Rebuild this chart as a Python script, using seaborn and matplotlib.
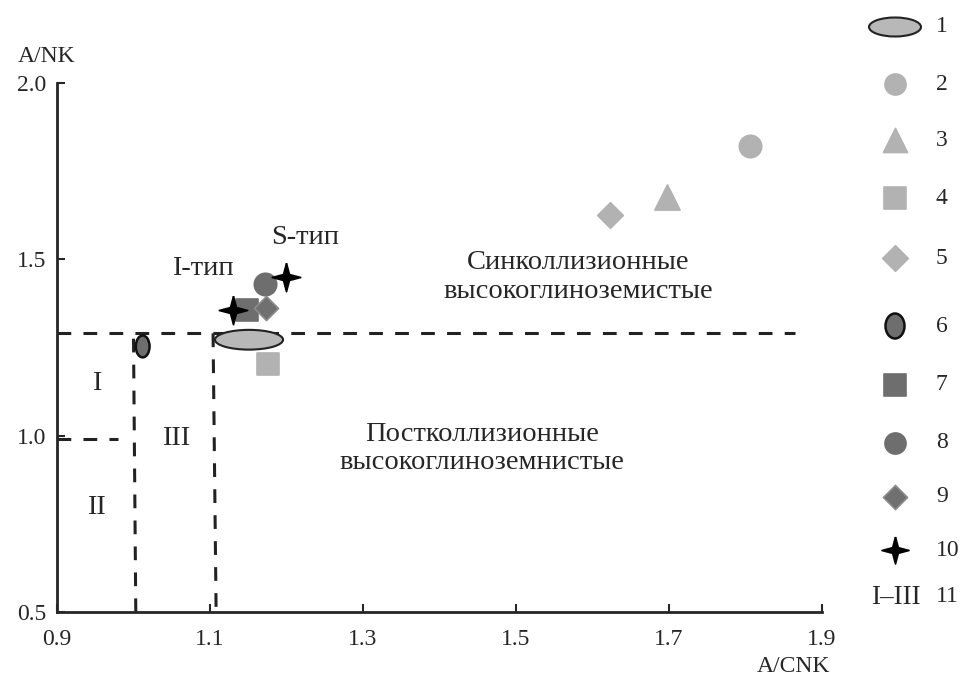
import numpy as np
import pandas as pd
import seaborn as sns
import matplotlib.pyplot as plt
from matplotlib.patches import Ellipse

# points (A/CNK, A/NK)
grp2_x, grp2_y = [1.806], [1.822]
grp3_x, grp3_y = [1.697], [1.676]
grp4_x, grp4_y = [1.176], [1.202]
grp5_x, grp5_y = [1.623], [1.625]
grp7_x, grp7_y = [1.148], [1.357]
grp8_x, grp8_y = [1.172], [1.430]
grp9_x, grp9_y = [1.173], [1.363]
grp10_x, grp10_y = [1.130, 1.199], [1.357, 1.450]

# ellipse fields: centre x, centre y, width, height
field1 = (1.151, 1.272, 0.089, 0.056)
field6 = (1.012, 1.253, 0.018, 0.062)

# boundaries
h_line = 1.29
h_line_end = 1.865
v_line_1 = 1.0
v_line_2 = 1.104
small_line_y = 0.99
small_line_end = 0.98

legend_labels = ['1', '2', '3', '4', '5', '6', '7', '8', '9', '10', '11']

light = '#b2b2b2'
dark = '#6e6e6e'

# thin four-pointed star
r = 0.21
star = [(0, 1), (r, r), (1, 0), (r, -r), (0, -1), (-r, -r), (-1, 0), (-r, r), (0, 1)]

sns.set_style('ticks')
plt.rcParams['font.family'] = ['Liberation Serif', 'DejaVu Serif']
plt.rcParams['font.size'] = 17

fig = plt.figure(figsize=(9.62, 6.77), dpi=100)
ax = fig.add_axes([57 / 962, 65 / 677, (822 - 57) / 962, (612 - 83) / 677])

# boundary lines
dash = dict(color='#222222', lw=2.2, ls=(0, (4.5, 4)))
ax.plot([0.9, h_line_end], [h_line, h_line], **dash)
ax.plot([v_line_1, v_line_1 + 0.003], [1.275, 0.5], **dash)
ax.plot([v_line_2, v_line_2 + 0.004], [h_line, 0.5], **dash)
ax.plot([0.9, small_line_end], [small_line_y, small_line_y], **dash)

# fields
cx, cy, w, h = field1
ax.add_patch(Ellipse((cx, cy), w, h, facecolor='#b8b8b8', edgecolor='#222222', lw=1.5, zorder=3))
cx, cy, w, h = field6
ax.add_patch(Ellipse((cx, cy), w, h, facecolor=dark, edgecolor='#111111', lw=1.8, zorder=3))

groups = [
    (grp2_x, grp2_y, 'o', light, light, 260),
    (grp3_x, grp3_y, '^', light, light, 330),
    (grp4_x, grp4_y, 's', light, light, 250),
    (grp5_x, grp5_y, 'D', light, light, 170),
    (grp7_x, grp7_y, 's', dark, dark, 250),
    (grp8_x, grp8_y, 'o', dark, dark, 260),
    (grp9_x, grp9_y, 'D', '#707070', '#8c8c8c', 150),
    (grp10_x, grp10_y, star, 'black', 'black', 420),
]
for gx, gy, m, fc, ec, s in groups:
    df = pd.DataFrame({'x': gx, 'y': gy})
    sns.scatterplot(data=df, x='x', y='y', marker=m, s=s, color=fc,
                    edgecolor=ec, linewidth=1.2, ax=ax, zorder=4)

ax.set_xlim(0.9, 1.9)
ax.set_ylim(0.5, 2.0)
ax.set_xticks([0.9, 1.1, 1.3, 1.5, 1.7, 1.9])
ax.set_xticklabels(['0.9', '1.1', '1.3', '1.5', '1.7', '1.9'])
ax.set_yticks([0.5, 1.0, 1.5, 2.0])
ax.set_yticklabels(['0.5', '1.0', '1.5', '2.0'])
ax.tick_params(axis='both', direction='in', length=6, width=1.5, labelsize=17)
ax.tick_params(axis='x', pad=12)
ax.tick_params(axis='y', pad=8)
sns.despine(ax=ax)
for sp in ['left', 'bottom']:
    ax.spines[sp].set_linewidth(2)
ax.set_xlabel('')
ax.set_ylabel('')

# labels inside
fs = 20.5
ax.text(1.224, 1.563, 'S-тип', ha='center', va='center', fontsize=fs)
ax.text(1.091, 1.475, 'I-тип', ha='center', va='center', fontsize=fs)
ax.text(1.581, 1.492, 'Синколлизионные', ha='center', va='center', fontsize=fs)
ax.text(1.581, 1.410, 'высокоглиноземистые', ha='center', va='center', fontsize=fs)
ax.text(1.456, 1.002, 'Постколлизионные', ha='center', va='center', fontsize=fs)
ax.text(1.456, 0.925, 'высокоглиноземнистые', ha='center', va='center', fontsize=fs)
ax.text(0.952, 1.149, 'I', ha='center', va='center', fontsize=fs)
ax.text(0.952, 0.795, 'II', ha='center', va='center', fontsize=fs)
ax.text(1.056, 0.993, 'III', ha='center', va='center', fontsize=fs)

fig.text(47 / 962, 1 - 57 / 677, 'A/NK', ha='center', va='center', fontsize=17)
fig.text(793 / 962, 1 - 667 / 677, 'A/CNK', ha='center', va='center', fontsize=17)

# legend column
lg = fig.add_axes([860 / 962, 0, 102 / 962, 1])
lg.set_xlim(860, 962)
lg.set_ylim(677, 0)
lg.axis('off')
rows = [27, 84, 140, 198, 258, 326, 385, 443, 497, 550, 597]
mx = 895
lg.add_patch(Ellipse((mx, rows[0]), 52, 19, facecolor='#b8b8b8', edgecolor='#222222', lw=1.5))
lg.add_patch(Ellipse((mx, rows[5]), 19, 25, facecolor=dark, edgecolor='#111111', lw=1.8))
leg_marks = [(1, 'o', light, light, 230), (2, '^', light, light, 300), (3, 's', light, light, 230),
             (4, 'D', light, light, 170), (6, 's', dark, dark, 230), (7, 'o', dark, dark, 230),
             (8, 'D', '#707070', '#8c8c8c', 150), (9, star, 'black', 'black', 380)]
for i, m, fc, ec, s in leg_marks:
    lg.scatter([mx], [rows[i]], marker=m, s=s, color=fc, edgecolor=ec, linewidth=1.2)
for i, lab in enumerate(legend_labels):
    lg.text(936, rows[i], lab, ha='left', va='center', fontsize=17)
lg.text(896, rows[10], 'I–III', ha='center', va='center', fontsize=19.5)

fig.savefig('out.png', dpi=100)
